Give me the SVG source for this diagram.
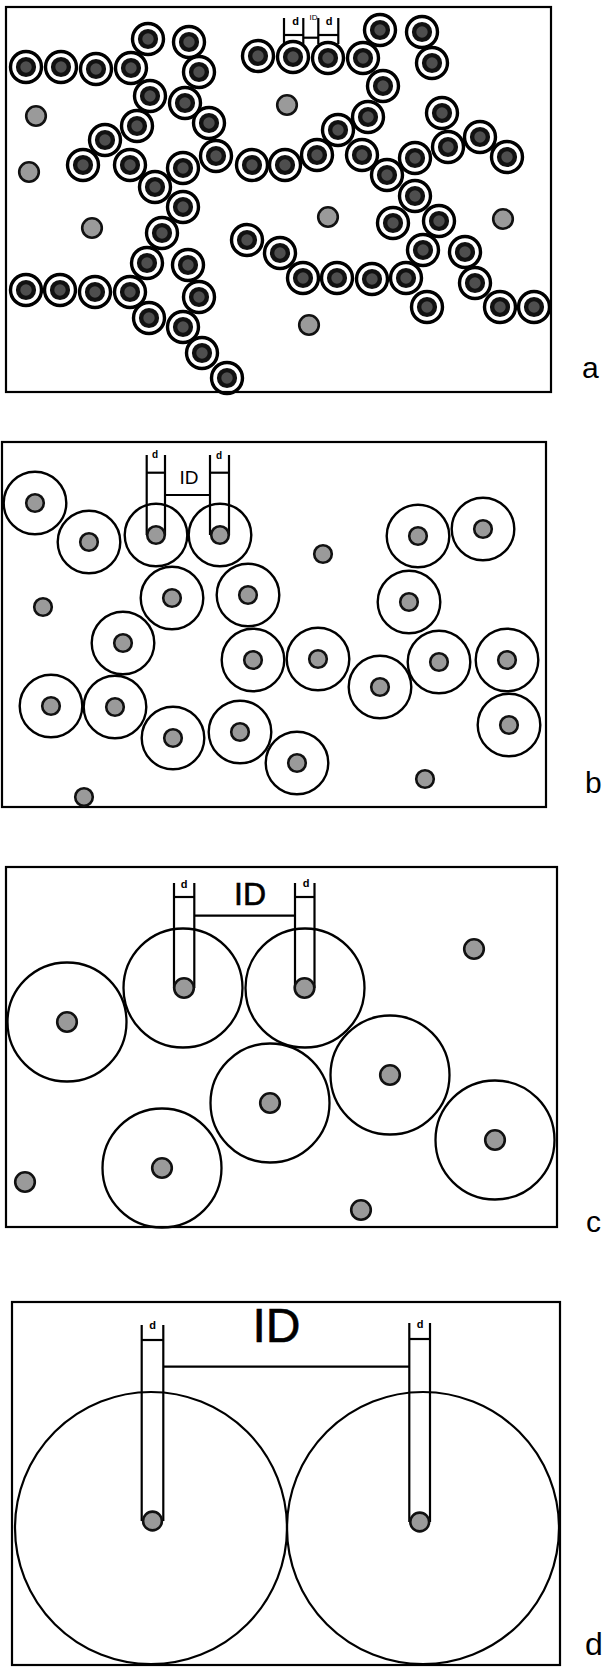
<svg xmlns="http://www.w3.org/2000/svg" xmlns:xlink="http://www.w3.org/1999/xlink" width="603" height="1667" viewBox="0 0 603 1667">
<style>
.frame{fill:none;stroke:#000;stroke-width:2.2}
.tube{stroke:#000;stroke-width:2.2;fill:none}
.lbl{font-family:"Liberation Sans",Arial,sans-serif;fill:#000}
.sd{font-family:"Liberation Sans",Arial,sans-serif;font-weight:bold;fill:#000;text-anchor:middle}
.id{font-family:"Liberation Sans",Arial,sans-serif;fill:#000;text-anchor:middle}
.ob{fill:none;stroke:#000;stroke-width:2.4}
.oc{fill:none;stroke:#000;stroke-width:2.3}
.od{fill:none;stroke:#000;stroke-width:2.2}
</style>
<defs>
<g id="ra"><circle r="15.5" fill="none" stroke="#000" stroke-width="3.4"/><circle r="7.9" fill="#4e4e4e" stroke="#111" stroke-width="4.4"/></g>
<circle id="pa" r="9.8" fill="#9a9a9a" stroke="#111" stroke-width="2.6"/>
<circle id="pb" r="8.8" fill="#9a9a9a" stroke="#111" stroke-width="2.6"/>
<circle id="pc" r="9.8" fill="#9a9a9a" stroke="#111" stroke-width="2.6"/>
<circle id="pd" r="9.4" fill="#9a9a9a" stroke="#111" stroke-width="2.6"/>
</defs>
<rect width="603" height="1667" fill="#fff"/>

<!-- Panel a -->
<g id="panel-a">
<rect class="frame" x="6" y="7" width="545" height="385"/>
<g id="a-dim">
<line class="tube" x1="284" y1="18" x2="284" y2="44"/>
<line class="tube" x1="303.3" y1="18" x2="303.3" y2="44"/>
<line class="tube" x1="318.3" y1="18" x2="318.3" y2="44"/>
<line class="tube" x1="338.3" y1="18" x2="338.3" y2="44"/>
<line class="tube" x1="284" y1="35" x2="303.3" y2="35"/>
<line class="tube" x1="318.3" y1="35" x2="338.3" y2="35"/>
<line class="tube" x1="303.3" y1="37.7" x2="318.3" y2="37.7"/>
<text class="sd" x="295.5" y="25" font-size="11">d</text>
<text class="id" x="313.5" y="20" font-size="8">ID</text>
<text class="sd" x="329" y="25" font-size="11">d</text>
</g>
<g id="a-ringed">
<use href="#ra" x="26" y="67"/><use href="#ra" x="61" y="67"/><use href="#ra" x="96" y="69"/><use href="#ra" x="131" y="68"/>
<use href="#ra" x="148" y="39"/><use href="#ra" x="189" y="42"/><use href="#ra" x="199" y="72"/><use href="#ra" x="150" y="96"/>
<use href="#ra" x="185" y="103"/><use href="#ra" x="209" y="123"/><use href="#ra" x="137" y="126"/><use href="#ra" x="105" y="140"/>
<use href="#ra" x="83" y="165"/><use href="#ra" x="130" y="165"/><use href="#ra" x="183" y="168"/><use href="#ra" x="216" y="156"/>
<use href="#ra" x="252" y="165"/><use href="#ra" x="285" y="165"/><use href="#ra" x="258" y="56"/><use href="#ra" x="155" y="187"/>
<use href="#ra" x="183" y="207"/>
<use href="#ra" x="293" y="57"/><use href="#ra" x="328" y="58"/><use href="#ra" x="363" y="58"/><use href="#ra" x="380" y="30"/>
<use href="#ra" x="422" y="32"/><use href="#ra" x="432" y="63"/><use href="#ra" x="383" y="86"/><use href="#ra" x="368" y="117"/>
<use href="#ra" x="442" y="113"/><use href="#ra" x="338" y="130"/><use href="#ra" x="317" y="155"/><use href="#ra" x="362" y="155"/>
<use href="#ra" x="387" y="175"/><use href="#ra" x="415" y="158"/><use href="#ra" x="448" y="147"/><use href="#ra" x="480" y="137"/>
<use href="#ra" x="507" y="157"/><use href="#ra" x="415" y="196"/>
<use href="#ra" x="162" y="233"/><use href="#ra" x="247" y="240"/><use href="#ra" x="280" y="253"/><use href="#ra" x="147" y="263"/>
<use href="#ra" x="188" y="265"/><use href="#ra" x="26" y="290"/><use href="#ra" x="60" y="290"/><use href="#ra" x="95" y="292"/>
<use href="#ra" x="130" y="292"/><use href="#ra" x="149" y="318"/><use href="#ra" x="199" y="297"/><use href="#ra" x="183" y="327"/>
<use href="#ra" x="202" y="353"/><use href="#ra" x="227" y="378"/>
<use href="#ra" x="393" y="223"/><use href="#ra" x="439" y="221"/><use href="#ra" x="423" y="250"/><use href="#ra" x="465" y="252"/>
<use href="#ra" x="303" y="278"/><use href="#ra" x="337" y="278"/><use href="#ra" x="372" y="279"/><use href="#ra" x="406" y="278"/>
<use href="#ra" x="427" y="307"/><use href="#ra" x="475" y="283"/><use href="#ra" x="500" y="307"/><use href="#ra" x="534" y="307"/>
</g>
<g id="a-free">
<use href="#pa" x="36" y="116"/><use href="#pa" x="29" y="172"/><use href="#pa" x="287" y="105"/><use href="#pa" x="92" y="228"/>
<use href="#pa" x="328" y="217"/><use href="#pa" x="503" y="219"/><use href="#pa" x="309" y="325"/>
</g>
<text class="lbl" x="582" y="378" font-size="30">a</text>
</g>

<!-- Panel b -->
<g id="panel-b">
<rect class="frame" x="2" y="442" width="544" height="365"/>
<g id="b-circles">
<circle class="ob" cx="35" cy="503" r="31.3"/><circle class="ob" cx="89" cy="542" r="31.3"/><circle class="ob" cx="156" cy="535" r="31.3"/>
<circle class="ob" cx="220" cy="535" r="31.3"/><circle class="ob" cx="172" cy="598" r="31.3"/><circle class="ob" cx="248" cy="595" r="31.3"/>
<circle class="ob" cx="123" cy="643" r="31.3"/><circle class="ob" cx="253" cy="660" r="31.3"/><circle class="ob" cx="51" cy="706" r="31.3"/>
<circle class="ob" cx="115" cy="707" r="31.3"/><circle class="ob" cx="173" cy="738" r="31.3"/><circle class="ob" cx="240" cy="732" r="31.3"/>
<circle class="ob" cx="297" cy="763" r="31.3"/><circle class="ob" cx="418" cy="536" r="31.3"/><circle class="ob" cx="483" cy="529" r="31.3"/>
<circle class="ob" cx="409" cy="602" r="31.3"/><circle class="ob" cx="318" cy="659" r="31.3"/><circle class="ob" cx="380" cy="687" r="31.3"/>
<circle class="ob" cx="439" cy="662" r="31.3"/><circle class="ob" cx="507" cy="660" r="31.3"/><circle class="ob" cx="509" cy="725" r="31.3"/>
</g>
<g id="b-dim">
<line class="tube" x1="146.7" y1="455" x2="146.7" y2="535"/>
<line class="tube" x1="165" y1="455" x2="165" y2="535"/>
<line class="tube" x1="210" y1="455" x2="210" y2="535"/>
<line class="tube" x1="229" y1="455" x2="229" y2="535"/>
<line class="tube" x1="146.7" y1="472.7" x2="165" y2="472.7"/>
<line class="tube" x1="210" y1="472.7" x2="229" y2="472.7"/>
<line class="tube" x1="165" y1="495" x2="210" y2="495"/>
<text class="sd" x="155" y="458" font-size="10">d</text>
<text class="sd" x="219" y="459" font-size="10">d</text>
<text class="id" x="189" y="484" font-size="19">ID</text>
</g>
<g id="b-particles">
<use href="#pb" x="35" y="503"/><use href="#pb" x="89" y="542"/><use href="#pb" x="156" y="535"/><use href="#pb" x="220" y="535"/>
<use href="#pb" x="172" y="598"/><use href="#pb" x="248" y="595"/><use href="#pb" x="123" y="643"/><use href="#pb" x="253" y="660"/>
<use href="#pb" x="51" y="706"/><use href="#pb" x="115" y="707"/><use href="#pb" x="173" y="738"/><use href="#pb" x="240" y="732"/>
<use href="#pb" x="297" y="763"/><use href="#pb" x="418" y="536"/><use href="#pb" x="483" y="529"/><use href="#pb" x="409" y="602"/>
<use href="#pb" x="318" y="659"/><use href="#pb" x="380" y="687"/><use href="#pb" x="439" y="662"/><use href="#pb" x="507" y="660"/>
<use href="#pb" x="509" y="725"/>
<use href="#pb" x="43" y="607"/><use href="#pb" x="84" y="797"/><use href="#pb" x="323" y="554"/><use href="#pb" x="425" y="779"/>
</g>
<text class="lbl" x="585" y="793" font-size="30">b</text>
</g>

<!-- Panel c -->
<g id="panel-c">
<rect class="frame" x="6" y="867" width="551" height="360"/>
<g id="c-circles">
<circle class="oc" cx="67" cy="1022" r="59.5"/><circle class="oc" cx="183" cy="988" r="59.5"/><circle class="oc" cx="305" cy="988" r="59.5"/>
<circle class="oc" cx="162" cy="1168" r="59.5"/><circle class="oc" cx="270" cy="1103" r="59.5"/><circle class="oc" cx="390" cy="1075" r="59.5"/>
<circle class="oc" cx="495" cy="1140" r="59.5"/>
</g>
<g id="c-dim">
<line class="tube" x1="174" y1="883" x2="174" y2="988"/>
<line class="tube" x1="194.3" y1="883" x2="194.3" y2="988"/>
<line class="tube" x1="295" y1="883" x2="295" y2="988"/>
<line class="tube" x1="314.5" y1="883" x2="314.5" y2="988"/>
<line class="tube" x1="174" y1="897" x2="194.3" y2="897"/>
<line class="tube" x1="295" y1="897" x2="314.5" y2="897"/>
<line class="tube" x1="194.3" y1="915.7" x2="295" y2="915.7"/>
<text class="sd" x="184" y="887.5" font-size="11">d</text>
<text class="sd" x="306" y="887" font-size="11">d</text>
<text class="id" x="250" y="905" font-size="32" stroke="#000" stroke-width="0.6">ID</text>
</g>
<g id="c-particles">
<use href="#pc" x="67" y="1022"/><use href="#pc" x="184" y="988"/><use href="#pc" x="304.5" y="988"/><use href="#pc" x="162" y="1168"/>
<use href="#pc" x="270" y="1103"/><use href="#pc" x="390" y="1075"/><use href="#pc" x="495" y="1140"/>
<use href="#pc" x="25" y="1182"/><use href="#pc" x="474" y="949"/><use href="#pc" x="361" y="1210"/>
</g>
<text class="lbl" x="586" y="1232" font-size="30">c</text>
</g>

<!-- Panel d -->
<g id="panel-d">
<rect class="frame" x="12" y="1302" width="548" height="363"/>
<g id="d-circles">
<circle class="od" cx="151" cy="1528" r="136"/>
<circle class="od" cx="423" cy="1528" r="136"/>
</g>
<g id="d-dim">
<line class="tube" x1="141.7" y1="1325" x2="141.7" y2="1521"/>
<line class="tube" x1="163.3" y1="1325" x2="163.3" y2="1521"/>
<line class="tube" x1="409.3" y1="1323" x2="409.3" y2="1522"/>
<line class="tube" x1="430" y1="1323" x2="430" y2="1522"/>
<line class="tube" x1="141.7" y1="1340" x2="163.3" y2="1340"/>
<line class="tube" x1="409.3" y1="1339" x2="430" y2="1339"/>
<line class="tube" x1="163.3" y1="1366.7" x2="409.3" y2="1366.7"/>
<text class="sd" x="152.5" y="1329" font-size="11">d</text>
<text class="sd" x="420" y="1328" font-size="11">d</text>
<text class="id" x="276.5" y="1342" font-size="48" stroke="#000" stroke-width="0.6">ID</text>
</g>
<g id="d-particles">
<use href="#pd" x="152.5" y="1521"/><use href="#pd" x="419.7" y="1522"/>
</g>
<text class="lbl" x="585" y="1655" font-size="32">d</text>
</g>
</svg>
